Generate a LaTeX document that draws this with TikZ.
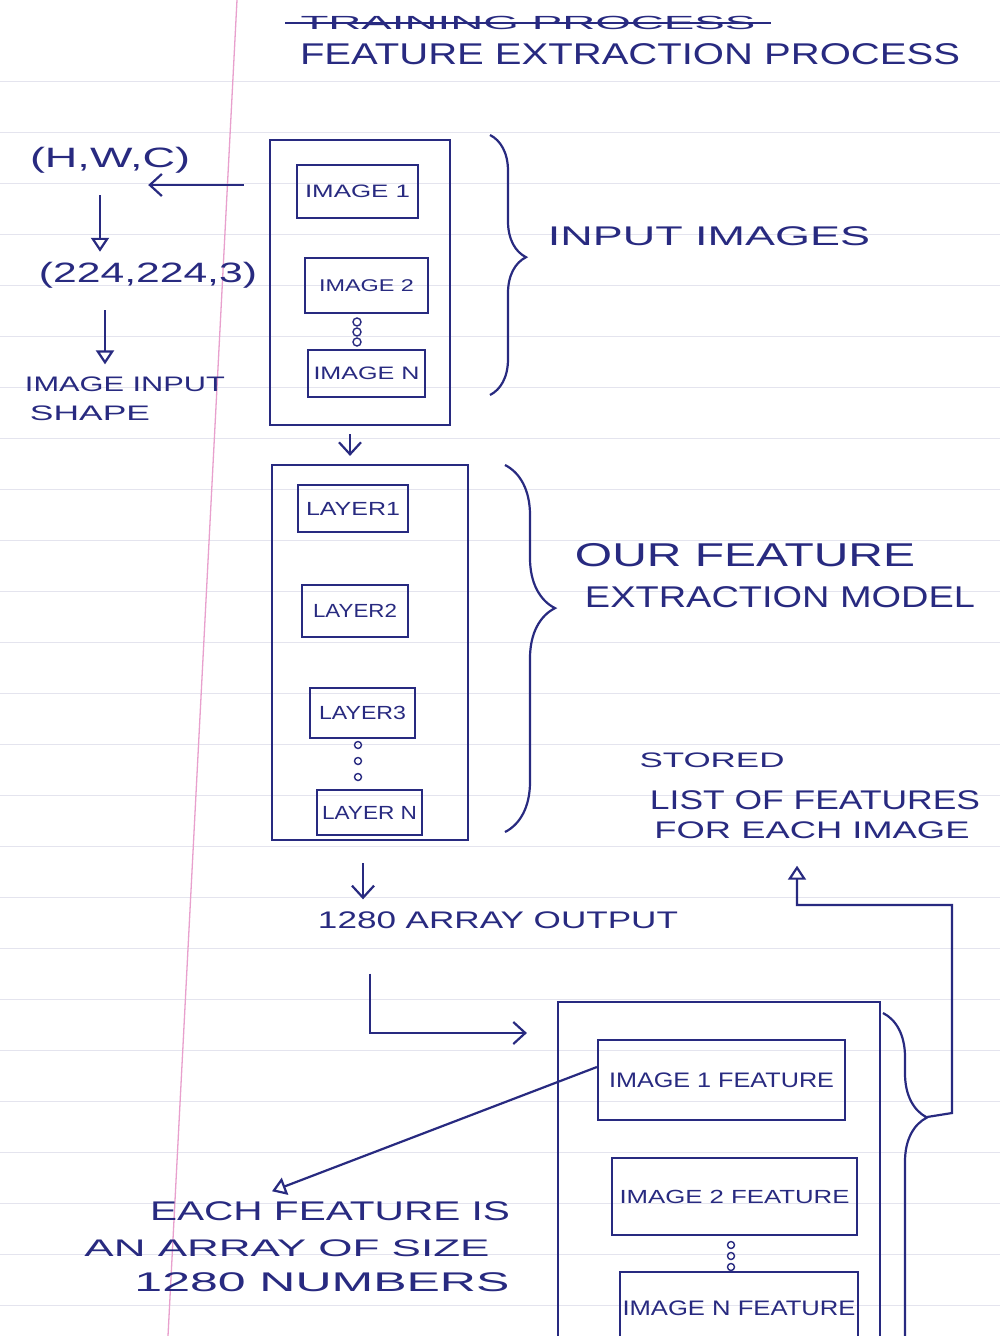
\documentclass[tikz,border=0pt]{standalone}
\usepackage{graphicx}
\usepackage{fontspec}
\setmainfont{Liberation Sans}
\usetikzlibrary{arrows.meta,decorations.pathreplacing,calc}
\definecolor{ink}{RGB}{40,42,128}
\definecolor{ruleline}{RGB}{228,228,238}
\definecolor{marginline}{RGB}{232,160,205}
\newcommand{\hw}[3]{\resizebox{#1pt}{\height}{\fontsize{#2}{#2}\selectfont #3}}
\begin{document}
\begin{tikzpicture}[x=1pt,y=-1pt,
  txt/.style={text=ink, inner sep=0pt},
  box/.style={draw=ink, line width=2.2pt, inner sep=0pt, text=ink},
  con/.style={draw=ink, line width=2.2pt},
  barb/.style={-{Straight Barb[length=12pt,width=22pt,line width=2.2pt]}},
  tri/.style={-{Triangle[open,length=14pt,width=18pt,line width=2.2pt]}},
  brc/.style={draw=ink, line width=2.2pt, decorate}]
\path[use as bounding box] (0,0) rectangle (1000,1336);
\clip (0,0) rectangle (1000,1336);
\fill[white] (0,0) rectangle (1000,1336);
% ruled paper
\foreach \k in {0,...,24} \draw[ruleline, line width=1pt] (0,81+51*\k) -- (1000,81+51*\k);
\draw[marginline, line width=1.3pt] (237,0) -- (168,1336);

% titles
\node[txt] (old) at (528,23) {\hw{455}{19}{TRAINING PROCESS}};
\draw[con, line width=1.6pt] ([xshift=-15pt]old.west) -- ([xshift=15pt]old.east);
\node[txt] (title) at (630,54) {\hw{660}{30}{FEATURE EXTRACTION PROCESS}};

% left column
\node[txt] (hwc) at (110,160) {\hw{160}{28}{(H,W,C)}};
\node[txt] (shp) at (148,275) {\hw{218}{28}{(224,224,3)}};
\node[txt] (ins1) at (125,384) {\hw{200}{21}{IMAGE INPUT}};
\node[txt] (ins2) at (90,413) {\hw{120}{21}{SHAPE}};

% input images
\node[box, minimum width=180pt, minimum height=285pt] (inbox) at (360,282.5) {};
\node[box, minimum width=121pt, minimum height=53pt] (img1) at (357.5,191.5) {\hw{105}{18}{IMAGE 1}};
\node[box, minimum width=123pt, minimum height=55pt] (img2) at (366.5,285.5) {\hw{95}{17}{IMAGE 2}};
\node[box, minimum width=117pt, minimum height=47pt] (imgN) at (366.5,373.5) {\hw{106}{18}{IMAGE N}};
\foreach \yy in {322,332,342} \draw[ink, line width=1.4pt] (357,\yy) circle (4);
\draw[brc, decoration={brace, amplitude=36pt, aspect=0.47}] (490,135) -- (490,395);
\node[txt] (inimg) at (709,236) {\hw{322}{27}{INPUT IMAGES}};

% model
\node[box, minimum width=196pt, minimum height=375pt] (model) at (370,652.5) {};
\node[box, minimum width=110pt, minimum height=47pt] (l1) at (353,508.5) {\hw{94}{19}{LAYER1}};
\node[box, minimum width=106pt, minimum height=52pt] (l2) at (355,611) {\hw{84}{19}{LAYER2}};
\node[box, minimum width=105pt, minimum height=50pt] (l3) at (362.5,713) {\hw{87}{19}{LAYER3}};
\node[box, minimum width=105pt, minimum height=45pt] (lN) at (369.5,812.5) {\hw{95}{19}{LAYER N}};
\foreach \yy in {745,761,777} \draw[ink, line width=1.4pt] (358,\yy) circle (3.5);
\draw[brc, decoration={brace, amplitude=50pt, aspect=0.39}] (505,465) -- (505,832);
\node[txt] (our) at (745,555) {\hw{340}{33}{OUR FEATURE}};
\node[txt] (extr) at (780,597) {\hw{390}{30}{EXTRACTION MODEL}};

% output
\node[txt] (out) at (498,920) {\hw{360}{24}{1280 ARRAY OUTPUT}};

% stored list
\node[txt] (stored) at (712,760) {\hw{145}{21}{STORED}};
\node[txt] (list1) at (815,800) {\hw{330}{27}{LIST OF FEATURES}};
\node[txt] (list2) at (812,830) {\hw{315}{24}{FOR EACH IMAGE}};

% feature store
\node[box, minimum width=322pt, minimum height=380pt] (feat) at (719,1192) {};
\node[box, minimum width=247pt, minimum height=80pt] (f1) at (721.5,1080) {\hw{225}{21}{IMAGE 1 FEATURE}};
\node[box, minimum width=245pt, minimum height=77pt] (f2) at (734.5,1196.5) {\hw{230}{19}{IMAGE 2 FEATURE}};
\node[box, minimum width=238pt, minimum height=73pt] (fN) at (739,1308.5) {\hw{233}{21}{IMAGE N FEATURE}};
\foreach \yy in {1245,1256,1267} \draw[ink, line width=1.4pt] (731,\yy) circle (3.5);
\draw[brc, decoration={brace, amplitude=44pt, aspect=0.27}] (883,1013) -- (883,1400);
\coordinate (b3tip) at (927,1117);

% note
\node[txt] (each) at (330,1211) {\hw{360}{27}{EACH FEATURE IS}};
\node[txt] (arr) at (287,1248) {\hw{405}{24}{AN ARRAY OF SIZE}};
\node[txt] (num) at (322,1282) {\hw{375}{27}{1280 NUMBERS}};

% connectors
\draw[con,barb] ([shift={(-25,-97.5)}]inbox.west) -- ([shift={(-42,25)}]hwc.east);
\draw[con,tri] ([shift={(-10,22)}]hwc.south) -- ([shift={(-48,-10)}]shp.north);
\draw[con,tri] ([shift={(-43,22)}]shp.south) -- ([shift={(-20,-12)}]ins1.north);
\draw[con,barb] ([shift={(-10,8)}]inbox.south) -- ([shift={(-20,-8)}]model.north);
\draw[con,barb] ([shift={(-7,22)}]model.south) -- ([shift={(-135,-12)}]out.north);
\draw[con,barb] ([shift={(-128,45)}]out.south) |- ([shift={(-30,-159)}]feat.west);
\draw[con,tri] ([shift={(0,-13)}]f1.west) -- ([shift={(-58,-10)}]each.north);
\draw[con,tri] (b3tip) -- (952,1113) -- (952,905) -| ([shift={(-15,27)}]list2.south);
\end{tikzpicture}
\end{document}
